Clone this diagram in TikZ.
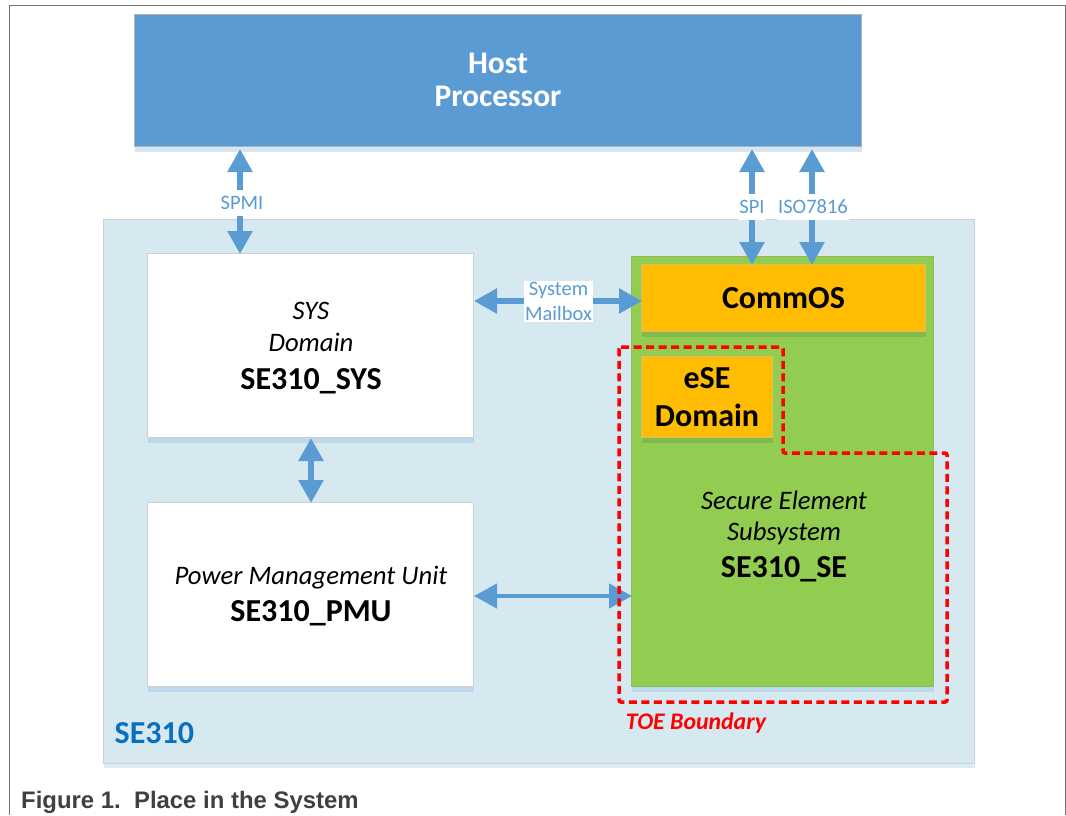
\documentclass[tikz,border=0pt]{standalone}
\usepackage{fontspec}
\setmainfont{Carlito}
\newfontfamily\capfont{Liberation Sans}
\usetikzlibrary{arrows.meta}
\definecolor{hostblue}{HTML}{5B9BD3}
\definecolor{pale}{HTML}{D7E9F0}
\definecolor{grn}{HTML}{92CD52}
\definecolor{org}{HTML}{FFBC00}
\definecolor{edgec}{HTML}{CDD0D2}
\definecolor{shadowc}{HTML}{BCD8EA}
\definecolor{se}{HTML}{0A70BE}
\tikzset{x=1pt,y=-1pt,
 boxn/.style={anchor=north west,inner sep=0pt,outer sep=0pt,draw=edgec,line width=1pt,align=center},
 dbl/.style={draw=hostblue,line width=5.5pt,{Triangle[width=24pt,length=23pt]}-{Triangle[width=24pt,length=23pt]}},
 dblthin/.style={draw=hostblue,line width=4.5pt,{Triangle[width=24pt,length=23pt]}-{Triangle[width=24pt,length=23pt]}},
 lbl/.style={fill=white,inner xsep=1.5pt,inner ysep=0pt,minimum height=26pt,text=hostblue,font=\fontsize{20.5}{25}\selectfont,align=center},
 big/.style={font=\fontsize{32}{38}\selectfont\bfseries},
 tital/.style={font=\fontsize{26.7}{33}\selectfont\itshape},
}
\begin{document}
\begin{tikzpicture}
\useasboundingbox (0,0) rectangle (1066,815);
\fill[white] (0,0) rectangle (1066,815);
\coordinate (fa) at (9.5,815);
\coordinate (fb) at (9.5,5.5);
\coordinate (fc) at (1065,5.5);
\coordinate (fd) at (1065,815);
\draw[draw=black!55,line width=1pt] (fa) -- (fb) -- (fc) -- (fd);
% shadows
\fill[hostblue!25] (134.5,20) rectangle (861.5,152);
\fill[shadowc!50] (103.5,224) rectangle (975,768);
% host
\node[boxn,fill=hostblue,draw=black!30,minimum width=727pt,minimum height=132pt,text=white,font=\fontsize{31.5}{33}\selectfont\bfseries] (host) at (134.5,14.5) {\raisebox{1.5pt}{Host}\\\raisebox{1.5pt}{Processor}};
% SE310
\node[boxn,fill=pale,minimum width=871pt,minimum height=544pt] (chip) at (103.5,219) {};
\fill[shadowc] (147.5,259) rectangle (474,443);
\fill[shadowc] (147.5,508) rectangle (474,692);
\fill[shadowc] (631.5,262) rectangle (934,692);
\node[boxn,fill=white,minimum width=326pt,minimum height=184pt] (sys) at (147.5,253.5) {};
\node[tital] (sysa) at (311,311) {SYS};
\node[tital] (sysb) at (311,342.5) {Domain};
\node[big] (syst) at (311,381) {SE310\_SYS};
\node[boxn,fill=white,minimum width=326pt,minimum height=184pt] (pmu) at (147.5,502.5) {};
\node[tital] (pmua) at (311,578) {Power Management Unit};
\node[big] (pmut) at (311,613) {SE310\_PMU};
\node[boxn,fill=grn,draw=grn!80!gray,minimum width=302pt,minimum height=430pt] (se) at (631.5,256.5) {};
\fill[black!10!grn] (642,332) rectangle (926,337);
\fill[black!10!grn] (642,438) rectangle (773,443);
\node[boxn,fill=org,draw=org!55!gray!70!white,minimum width=284pt,minimum height=67pt,big] (comm) at (641.5,264.5) {CommOS};
\node[boxn,fill=org,draw=org!55!gray!70!white,minimum width=131pt,minimum height=81pt,font=\fontsize{32}{38}\selectfont\bfseries] (ese) at (641.5,356.5) {eSE\\Domain};
\node[tital] (sea) at (784,500) {Secure Element};
\node[tital] (seb) at (784,533) {Subsystem};
\node[big] (set) at (784,569) {SE310\_SE};
% connectors
\coordinate (spmiT) at (240,149);
\coordinate (spiT) at (752,149);
\coordinate (isoT) at (812,149);
\coordinate (spiB) at (752,265);
\coordinate (isoB) at (812,265);
\coordinate (spmiB) at (240,254);
\coordinate (mbL) at (474,301);
\coordinate (mbR) at (642,301);
\coordinate (vT) at (311,438);
\coordinate (vB) at (311,503);
\coordinate (pL) at (474,596);
\coordinate (pR) at (632,596);
\draw[dbl] (spmiT) -- (spmiB);
\draw[dbl] (spiT) -- (spiB);
\draw[dbl] (isoT) -- (isoB);
\draw[dbl] (mbL) -- (mbR);
\draw[dbl] (vT) -- (vB);
\draw[dblthin] (pL) -- (pR);
% labels
\node[lbl] (l1) at (242,203) {SPMI};
\node[lbl] (l2) at (752,207) {SPI};
\node[lbl] (l3) at (813,207) {ISO7816};
\node[lbl,inner ysep=1pt] (l4) at (558.5,301.5) {System\\Mailbox};
% boundary
\draw[red,line width=3.5pt,dash pattern=on 8pt off 4.5pt,rounded corners=2pt] (619,347) -- (783,347) -- (783,453) -- (947,453) -- (947,702) -- (619,702) -- cycle;
\node[font=\fontsize{23.8}{28}\selectfont\bfseries\itshape,text=red] (toe) at (696,723) {TOE Boundary};
\node[font=\fontsize{32}{36}\selectfont\bfseries,text=se,anchor=west,inner sep=0pt] (chipl) at (114.5,733) {SE310};
\node[font=\fontsize{23.9}{28}\capfont\bfseries,text=black!75,anchor=west,inner sep=0pt] (cap) at (21,802.5) {Figure 1.\ \ Place in the System};
\end{tikzpicture}
\end{document}
